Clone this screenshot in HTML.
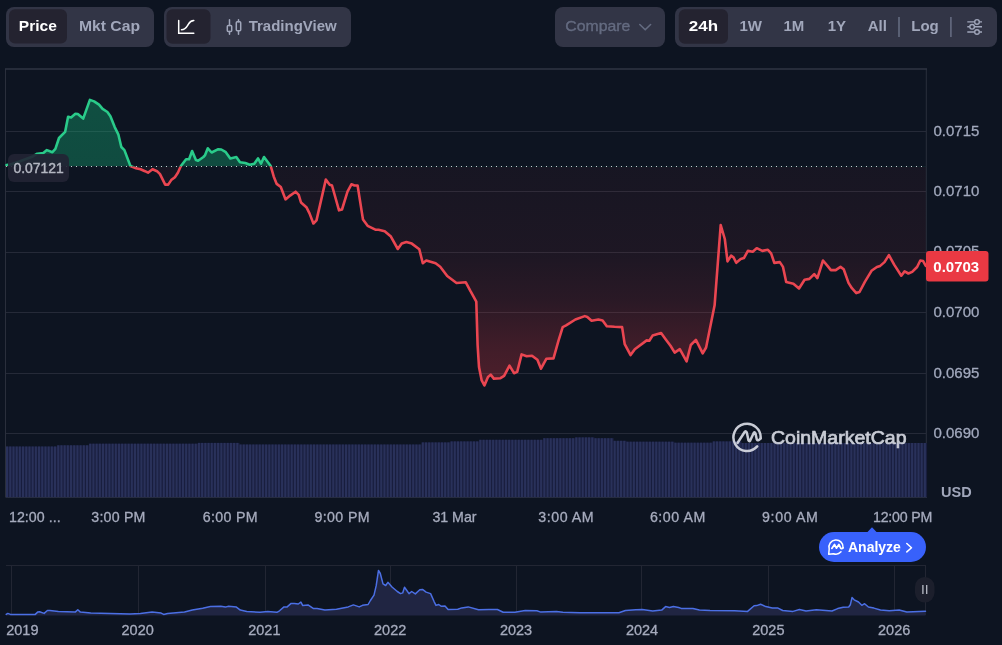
<!DOCTYPE html>
<html><head><meta charset="utf-8"><style>
html,body{margin:0;padding:0;background:#0d1421;width:1002px;height:645px;overflow:hidden}
svg{display:block;will-change:transform}
</style></head><body>
<svg width="1002" height="645" viewBox="0 0 1002 645">
<defs>
<linearGradient id="rg" x1="0" y1="166.4" x2="0" y2="497" gradientUnits="userSpaceOnUse">
<stop offset="0" stop-color="#ea3943" stop-opacity="0.045"/>
<stop offset="0.268" stop-color="#ea3943" stop-opacity="0.075"/>
<stop offset="0.404" stop-color="#ea3943" stop-opacity="0.13"/>
<stop offset="0.54" stop-color="#ea3943" stop-opacity="0.23"/>
<stop offset="0.676" stop-color="#ea3943" stop-opacity="0.3"/>
<stop offset="1" stop-color="#ea3943" stop-opacity="0.38"/>
</linearGradient>
<linearGradient id="gg" x1="0" y1="90" x2="0" y2="166.4" gradientUnits="userSpaceOnUse">
<stop offset="0" stop-color="#16c784" stop-opacity="0.33"/>
<stop offset="1" stop-color="#16c784" stop-opacity="0.31"/>
</linearGradient>
<clipPath id="above"><rect x="0" y="0" width="1002" height="166.4"/></clipPath>
<clipPath id="below"><rect x="0" y="166.4" width="1002" height="400"/></clipPath>
</defs>
<rect width="1002" height="645" fill="#0d1421"/>

<!-- toolbar group 1 -->
<rect x="6" y="7" width="148" height="40" rx="8" fill="#323546"/>
<rect x="9" y="9.3" width="58" height="34.2" rx="6" fill="#242330"/>
<g font-family="'Liberation Sans', sans-serif" font-size="15" font-weight="bold">
<text x="18.8" y="31" fill="#ffffff" textLength="38" lengthAdjust="spacingAndGlyphs">Price</text>
<text x="79" y="31" fill="#a1a7bb" textLength="61" lengthAdjust="spacingAndGlyphs">Mkt Cap</text>
</g>
<!-- group 2 -->
<rect x="164" y="7" width="187" height="40" rx="8" fill="#323546"/>
<rect x="166.5" y="9.3" width="44" height="34.4" rx="6" fill="#242330"/>
<g fill="none" stroke="#ffffff" stroke-width="1.5" stroke-linecap="round">
<path d="M178.7,20.5 V33.2 H193.8"/>
<path d="M181.5,29.8 C186,29.5 186.5,27 188.5,24 C190,21.5 191.5,20.8 193.8,20.6"/>
</g>
<g fill="none" stroke="#a1a7bb" stroke-width="1.5" stroke-linecap="round">
<path d="M229.5,19.8 V25.5 M229.5,31.5 V34.2 M238.5,19.8 V21.8 M238.5,30.8 V34.2"/>
<rect x="227.3" y="25.5" width="4.4" height="6" rx="1"/>
<rect x="236.3" y="21.8" width="4.4" height="9" rx="1"/>
</g>
<text x="248.7" y="31" font-family="'Liberation Sans', sans-serif" font-size="15" font-weight="bold" fill="#a1a7bb">TradingView</text>

<!-- compare -->
<rect x="555" y="7" width="110" height="40" rx="8" fill="#323546"/>
<text x="565.3" y="31" font-family="'Liberation Sans', sans-serif" font-size="15.2" fill="#646b80" stroke="#646b80" stroke-width="0.35" textLength="65" lengthAdjust="spacingAndGlyphs">Compare</text>
<path d="M639.8,24.5 L645.2,29.8 L650.6,24.5" fill="none" stroke="#646b80" stroke-width="1.6" stroke-linecap="round" stroke-linejoin="round"/>

<!-- group 3 -->
<rect x="675" y="7" width="322" height="40" rx="8" fill="#323546"/>
<rect x="678.8" y="9.3" width="49.2" height="34.4" rx="6" fill="#242330"/>
<g font-family="'Liberation Sans', sans-serif" font-size="15" font-weight="bold" fill="#a1a7bb">
<text x="688.8" y="31" fill="#ffffff" textLength="29.2" lengthAdjust="spacingAndGlyphs">24h</text>
<text x="739.4" y="31">1W</text>
<text x="783.5" y="31">1M</text>
<text x="827.7" y="31">1Y</text>
<text x="867.7" y="31">All</text>
<text x="911.3" y="31">Log</text>
</g>
<rect x="898.2" y="17" width="1.6" height="20" fill="#646b80"/>
<rect x="950.1" y="17" width="1.6" height="20" fill="#646b80"/>
<g fill="none" stroke="#a1a7bb" stroke-width="1.4">
<path d="M967.3,21.9 H974.5 M979.5,21.9 H982 M967.3,26.8 H969.6 M974.6,26.8 H982 M967.3,32 H974.5 M979.5,32 H982"/>
<circle cx="977" cy="21.9" r="2.3"/>
<circle cx="972.1" cy="26.8" r="2.3"/>
<circle cx="977" cy="32" r="2.3"/>
</g>

<!-- chart frame -->
<g stroke="#252a38" stroke-width="1"><line x1="6" y1="131.5" x2="926" y2="131.5"/><line x1="6" y1="191.5" x2="926" y2="191.5"/><line x1="6" y1="252.5" x2="926" y2="252.5"/><line x1="6" y1="312.5" x2="926" y2="312.5"/><line x1="6" y1="373.5" x2="926" y2="373.5"/><line x1="6" y1="433.5" x2="926" y2="433.5"/></g>
<g stroke="#2a2f3c" stroke-width="1" fill="none">
<path d="M926.3,69 V497 M5.5,69 V497.5"/>
</g>
<path d="M5,69 H927" stroke="#2f3543" stroke-width="1.6"/>
<!-- volume -->
<g fill="#191e3e"><rect x="6.00" y="446.5" width="3.30" height="50.5"/><rect x="9.20" y="446.5" width="3.30" height="50.5"/><rect x="12.40" y="446.5" width="3.30" height="50.5"/><rect x="15.59" y="446.5" width="3.30" height="50.5"/><rect x="18.79" y="446.5" width="3.30" height="50.5"/><rect x="21.99" y="446.5" width="3.30" height="50.5"/><rect x="25.19" y="446.5" width="3.30" height="50.5"/><rect x="28.39" y="446.5" width="3.30" height="50.5"/><rect x="31.58" y="446.5" width="3.30" height="50.5"/><rect x="34.78" y="446.5" width="3.30" height="50.5"/><rect x="37.98" y="446.5" width="3.30" height="50.5"/><rect x="41.18" y="446.5" width="3.30" height="50.5"/><rect x="44.38" y="446.5" width="3.30" height="50.5"/><rect x="47.57" y="446.5" width="3.30" height="50.5"/><rect x="50.77" y="446.5" width="3.30" height="50.5"/><rect x="53.97" y="446.5" width="3.30" height="50.5"/><rect x="57.17" y="445.3" width="3.30" height="51.69999999999999"/><rect x="60.36" y="445.3" width="3.30" height="51.69999999999999"/><rect x="63.56" y="445.3" width="3.30" height="51.69999999999999"/><rect x="66.76" y="445.3" width="3.30" height="51.69999999999999"/><rect x="69.96" y="445.3" width="3.30" height="51.69999999999999"/><rect x="73.16" y="445.3" width="3.30" height="51.69999999999999"/><rect x="76.35" y="445.3" width="3.30" height="51.69999999999999"/><rect x="79.55" y="445.3" width="3.30" height="51.69999999999999"/><rect x="82.75" y="445.3" width="3.30" height="51.69999999999999"/><rect x="85.95" y="445.3" width="3.30" height="51.69999999999999"/><rect x="89.15" y="443.7" width="3.30" height="53.30000000000001"/><rect x="92.34" y="443.7" width="3.30" height="53.30000000000001"/><rect x="95.54" y="443.7" width="3.30" height="53.30000000000001"/><rect x="98.74" y="443.7" width="3.30" height="53.30000000000001"/><rect x="101.94" y="443.7" width="3.30" height="53.30000000000001"/><rect x="105.14" y="443.7" width="3.30" height="53.30000000000001"/><rect x="108.33" y="443.7" width="3.30" height="53.30000000000001"/><rect x="111.53" y="443.7" width="3.30" height="53.30000000000001"/><rect x="114.73" y="443.7" width="3.30" height="53.30000000000001"/><rect x="117.93" y="443.7" width="3.30" height="53.30000000000001"/><rect x="121.12" y="443.7" width="3.30" height="53.30000000000001"/><rect x="124.32" y="443.7" width="3.30" height="53.30000000000001"/><rect x="127.52" y="443.7" width="3.30" height="53.30000000000001"/><rect x="130.72" y="443.7" width="3.30" height="53.30000000000001"/><rect x="133.92" y="443.7" width="3.30" height="53.30000000000001"/><rect x="137.11" y="443.7" width="3.30" height="53.30000000000001"/><rect x="140.31" y="443.7" width="3.30" height="53.30000000000001"/><rect x="143.51" y="443.7" width="3.30" height="53.30000000000001"/><rect x="146.71" y="443.7" width="3.30" height="53.30000000000001"/><rect x="149.91" y="443.7" width="3.30" height="53.30000000000001"/><rect x="153.10" y="443.7" width="3.30" height="53.30000000000001"/><rect x="156.30" y="443.7" width="3.30" height="53.30000000000001"/><rect x="159.50" y="443.7" width="3.30" height="53.30000000000001"/><rect x="162.70" y="443.7" width="3.30" height="53.30000000000001"/><rect x="165.90" y="443.7" width="3.30" height="53.30000000000001"/><rect x="169.09" y="443.7" width="3.30" height="53.30000000000001"/><rect x="172.29" y="443.7" width="3.30" height="53.30000000000001"/><rect x="175.49" y="443.7" width="3.30" height="53.30000000000001"/><rect x="178.69" y="443.7" width="3.30" height="53.30000000000001"/><rect x="181.89" y="443.7" width="3.30" height="53.30000000000001"/><rect x="185.08" y="443.7" width="3.30" height="53.30000000000001"/><rect x="188.28" y="443.7" width="3.30" height="53.30000000000001"/><rect x="191.48" y="443.7" width="3.30" height="53.30000000000001"/><rect x="194.68" y="443.7" width="3.30" height="53.30000000000001"/><rect x="197.88" y="442.9" width="3.30" height="54.10000000000002"/><rect x="201.07" y="442.9" width="3.30" height="54.10000000000002"/><rect x="204.27" y="442.9" width="3.30" height="54.10000000000002"/><rect x="207.47" y="442.9" width="3.30" height="54.10000000000002"/><rect x="210.67" y="442.9" width="3.30" height="54.10000000000002"/><rect x="213.86" y="442.9" width="3.30" height="54.10000000000002"/><rect x="217.06" y="442.9" width="3.30" height="54.10000000000002"/><rect x="220.26" y="442.9" width="3.30" height="54.10000000000002"/><rect x="223.46" y="442.9" width="3.30" height="54.10000000000002"/><rect x="226.66" y="442.9" width="3.30" height="54.10000000000002"/><rect x="229.85" y="442.9" width="3.30" height="54.10000000000002"/><rect x="233.05" y="442.9" width="3.30" height="54.10000000000002"/><rect x="236.25" y="442.9" width="3.30" height="54.10000000000002"/><rect x="239.45" y="444.5" width="3.30" height="52.5"/><rect x="242.65" y="444.5" width="3.30" height="52.5"/><rect x="245.84" y="444.5" width="3.30" height="52.5"/><rect x="249.04" y="444.5" width="3.30" height="52.5"/><rect x="252.24" y="444.5" width="3.30" height="52.5"/><rect x="255.44" y="444.5" width="3.30" height="52.5"/><rect x="258.64" y="444.5" width="3.30" height="52.5"/><rect x="261.83" y="444.5" width="3.30" height="52.5"/><rect x="265.03" y="444.5" width="3.30" height="52.5"/><rect x="268.23" y="444.5" width="3.30" height="52.5"/><rect x="271.43" y="444.5" width="3.30" height="52.5"/><rect x="274.62" y="444.5" width="3.30" height="52.5"/><rect x="277.82" y="444.5" width="3.30" height="52.5"/><rect x="281.02" y="444.5" width="3.30" height="52.5"/><rect x="284.22" y="444.5" width="3.30" height="52.5"/><rect x="287.42" y="444.5" width="3.30" height="52.5"/><rect x="290.61" y="444.5" width="3.30" height="52.5"/><rect x="293.81" y="444.5" width="3.30" height="52.5"/><rect x="297.01" y="444.5" width="3.30" height="52.5"/><rect x="300.21" y="444.5" width="3.30" height="52.5"/><rect x="303.41" y="444.5" width="3.30" height="52.5"/><rect x="306.60" y="444.5" width="3.30" height="52.5"/><rect x="309.80" y="444.5" width="3.30" height="52.5"/><rect x="313.00" y="444.5" width="3.30" height="52.5"/><rect x="316.20" y="444.5" width="3.30" height="52.5"/><rect x="319.40" y="444.5" width="3.30" height="52.5"/><rect x="322.59" y="444.5" width="3.30" height="52.5"/><rect x="325.79" y="444.5" width="3.30" height="52.5"/><rect x="328.99" y="444.5" width="3.30" height="52.5"/><rect x="332.19" y="444.5" width="3.30" height="52.5"/><rect x="335.39" y="444.5" width="3.30" height="52.5"/><rect x="338.58" y="444.5" width="3.30" height="52.5"/><rect x="341.78" y="444.5" width="3.30" height="52.5"/><rect x="344.98" y="444.5" width="3.30" height="52.5"/><rect x="348.18" y="444.5" width="3.30" height="52.5"/><rect x="351.38" y="444.5" width="3.30" height="52.5"/><rect x="354.57" y="444.5" width="3.30" height="52.5"/><rect x="357.77" y="444.5" width="3.30" height="52.5"/><rect x="360.97" y="444.5" width="3.30" height="52.5"/><rect x="364.17" y="444.5" width="3.30" height="52.5"/><rect x="367.36" y="444.5" width="3.30" height="52.5"/><rect x="370.56" y="444.5" width="3.30" height="52.5"/><rect x="373.76" y="444.5" width="3.30" height="52.5"/><rect x="376.96" y="444.5" width="3.30" height="52.5"/><rect x="380.16" y="444.5" width="3.30" height="52.5"/><rect x="383.35" y="444.5" width="3.30" height="52.5"/><rect x="386.55" y="444.5" width="3.30" height="52.5"/><rect x="389.75" y="444.5" width="3.30" height="52.5"/><rect x="392.95" y="444.5" width="3.30" height="52.5"/><rect x="396.15" y="444.5" width="3.30" height="52.5"/><rect x="399.34" y="444.5" width="3.30" height="52.5"/><rect x="402.54" y="444.5" width="3.30" height="52.5"/><rect x="405.74" y="444.5" width="3.30" height="52.5"/><rect x="408.94" y="444.5" width="3.30" height="52.5"/><rect x="412.14" y="444.5" width="3.30" height="52.5"/><rect x="415.33" y="444.5" width="3.30" height="52.5"/><rect x="418.53" y="444.5" width="3.30" height="52.5"/><rect x="421.73" y="442.4" width="3.30" height="54.60000000000002"/><rect x="424.93" y="442.4" width="3.30" height="54.60000000000002"/><rect x="428.12" y="442.4" width="3.30" height="54.60000000000002"/><rect x="431.32" y="442.4" width="3.30" height="54.60000000000002"/><rect x="434.52" y="442.4" width="3.30" height="54.60000000000002"/><rect x="437.72" y="442.4" width="3.30" height="54.60000000000002"/><rect x="440.92" y="442.4" width="3.30" height="54.60000000000002"/><rect x="444.11" y="442.4" width="3.30" height="54.60000000000002"/><rect x="447.31" y="442.4" width="3.30" height="54.60000000000002"/><rect x="450.51" y="441.4" width="3.30" height="55.60000000000002"/><rect x="453.71" y="441.4" width="3.30" height="55.60000000000002"/><rect x="456.91" y="441.4" width="3.30" height="55.60000000000002"/><rect x="460.10" y="441.4" width="3.30" height="55.60000000000002"/><rect x="463.30" y="441.4" width="3.30" height="55.60000000000002"/><rect x="466.50" y="441.4" width="3.30" height="55.60000000000002"/><rect x="469.70" y="441.4" width="3.30" height="55.60000000000002"/><rect x="472.90" y="441.4" width="3.30" height="55.60000000000002"/><rect x="476.09" y="441.4" width="3.30" height="55.60000000000002"/><rect x="479.29" y="439.8" width="3.30" height="57.19999999999999"/><rect x="482.49" y="439.8" width="3.30" height="57.19999999999999"/><rect x="485.69" y="439.8" width="3.30" height="57.19999999999999"/><rect x="488.89" y="439.8" width="3.30" height="57.19999999999999"/><rect x="492.08" y="439.8" width="3.30" height="57.19999999999999"/><rect x="495.28" y="439.8" width="3.30" height="57.19999999999999"/><rect x="498.48" y="439.8" width="3.30" height="57.19999999999999"/><rect x="501.68" y="439.8" width="3.30" height="57.19999999999999"/><rect x="504.88" y="439.8" width="3.30" height="57.19999999999999"/><rect x="508.07" y="439.8" width="3.30" height="57.19999999999999"/><rect x="511.27" y="439.8" width="3.30" height="57.19999999999999"/><rect x="514.47" y="439.8" width="3.30" height="57.19999999999999"/><rect x="517.67" y="439.8" width="3.30" height="57.19999999999999"/><rect x="520.86" y="439.8" width="3.30" height="57.19999999999999"/><rect x="524.06" y="439.8" width="3.30" height="57.19999999999999"/><rect x="527.26" y="439.8" width="3.30" height="57.19999999999999"/><rect x="530.46" y="439.8" width="3.30" height="57.19999999999999"/><rect x="533.66" y="439.8" width="3.30" height="57.19999999999999"/><rect x="536.85" y="439.8" width="3.30" height="57.19999999999999"/><rect x="540.05" y="439.8" width="3.30" height="57.19999999999999"/><rect x="543.25" y="438.2" width="3.30" height="58.80000000000001"/><rect x="546.45" y="438.2" width="3.30" height="58.80000000000001"/><rect x="549.65" y="438.2" width="3.30" height="58.80000000000001"/><rect x="552.84" y="438.2" width="3.30" height="58.80000000000001"/><rect x="556.04" y="438.2" width="3.30" height="58.80000000000001"/><rect x="559.24" y="438.2" width="3.30" height="58.80000000000001"/><rect x="562.44" y="438.2" width="3.30" height="58.80000000000001"/><rect x="565.64" y="438.2" width="3.30" height="58.80000000000001"/><rect x="568.83" y="438.2" width="3.30" height="58.80000000000001"/><rect x="572.03" y="438.2" width="3.30" height="58.80000000000001"/><rect x="575.23" y="437.4" width="3.30" height="59.60000000000002"/><rect x="578.43" y="437.4" width="3.30" height="59.60000000000002"/><rect x="581.62" y="437.4" width="3.30" height="59.60000000000002"/><rect x="584.82" y="437.4" width="3.30" height="59.60000000000002"/><rect x="588.02" y="437.4" width="3.30" height="59.60000000000002"/><rect x="591.22" y="437.4" width="3.30" height="59.60000000000002"/><rect x="594.42" y="438.2" width="3.30" height="58.80000000000001"/><rect x="597.61" y="438.2" width="3.30" height="58.80000000000001"/><rect x="600.81" y="438.2" width="3.30" height="58.80000000000001"/><rect x="604.01" y="438.2" width="3.30" height="58.80000000000001"/><rect x="607.21" y="438.2" width="3.30" height="58.80000000000001"/><rect x="610.41" y="438.2" width="3.30" height="58.80000000000001"/><rect x="613.60" y="440.8" width="3.30" height="56.19999999999999"/><rect x="616.80" y="440.8" width="3.30" height="56.19999999999999"/><rect x="620.00" y="440.8" width="3.30" height="56.19999999999999"/><rect x="623.20" y="440.8" width="3.30" height="56.19999999999999"/><rect x="626.40" y="441.7" width="3.30" height="55.30000000000001"/><rect x="629.59" y="441.7" width="3.30" height="55.30000000000001"/><rect x="632.79" y="441.7" width="3.30" height="55.30000000000001"/><rect x="635.99" y="441.7" width="3.30" height="55.30000000000001"/><rect x="639.19" y="441.7" width="3.30" height="55.30000000000001"/><rect x="642.39" y="441.7" width="3.30" height="55.30000000000001"/><rect x="645.58" y="441.7" width="3.30" height="55.30000000000001"/><rect x="648.78" y="441.7" width="3.30" height="55.30000000000001"/><rect x="651.98" y="441.7" width="3.30" height="55.30000000000001"/><rect x="655.18" y="441.7" width="3.30" height="55.30000000000001"/><rect x="658.38" y="441.7" width="3.30" height="55.30000000000001"/><rect x="661.57" y="441.7" width="3.30" height="55.30000000000001"/><rect x="664.77" y="441.7" width="3.30" height="55.30000000000001"/><rect x="667.97" y="441.7" width="3.30" height="55.30000000000001"/><rect x="671.17" y="441.7" width="3.30" height="55.30000000000001"/><rect x="674.36" y="442.7" width="3.30" height="54.30000000000001"/><rect x="677.56" y="442.7" width="3.30" height="54.30000000000001"/><rect x="680.76" y="442.7" width="3.30" height="54.30000000000001"/><rect x="683.96" y="442.7" width="3.30" height="54.30000000000001"/><rect x="687.16" y="442.7" width="3.30" height="54.30000000000001"/><rect x="690.35" y="442.7" width="3.30" height="54.30000000000001"/><rect x="693.55" y="442.7" width="3.30" height="54.30000000000001"/><rect x="696.75" y="442.7" width="3.30" height="54.30000000000001"/><rect x="699.95" y="442.7" width="3.30" height="54.30000000000001"/><rect x="703.15" y="442.7" width="3.30" height="54.30000000000001"/><rect x="706.34" y="442.7" width="3.30" height="54.30000000000001"/><rect x="709.54" y="442.7" width="3.30" height="54.30000000000001"/><rect x="712.74" y="441.4" width="3.30" height="55.60000000000002"/><rect x="715.94" y="441.4" width="3.30" height="55.60000000000002"/><rect x="719.14" y="441.4" width="3.30" height="55.60000000000002"/><rect x="722.33" y="441.4" width="3.30" height="55.60000000000002"/><rect x="725.53" y="441.4" width="3.30" height="55.60000000000002"/><rect x="728.73" y="441.4" width="3.30" height="55.60000000000002"/><rect x="731.93" y="441.4" width="3.30" height="55.60000000000002"/><rect x="735.12" y="441.4" width="3.30" height="55.60000000000002"/><rect x="738.32" y="441.4" width="3.30" height="55.60000000000002"/><rect x="741.52" y="443" width="3.30" height="54"/><rect x="744.72" y="443" width="3.30" height="54"/><rect x="747.92" y="443" width="3.30" height="54"/><rect x="751.11" y="443" width="3.30" height="54"/><rect x="754.31" y="443" width="3.30" height="54"/><rect x="757.51" y="443" width="3.30" height="54"/><rect x="760.71" y="443" width="3.30" height="54"/><rect x="763.91" y="443" width="3.30" height="54"/><rect x="767.10" y="443" width="3.30" height="54"/><rect x="770.30" y="443" width="3.30" height="54"/><rect x="773.50" y="443" width="3.30" height="54"/><rect x="776.70" y="443" width="3.30" height="54"/><rect x="779.90" y="443" width="3.30" height="54"/><rect x="783.09" y="443" width="3.30" height="54"/><rect x="786.29" y="443" width="3.30" height="54"/><rect x="789.49" y="443" width="3.30" height="54"/><rect x="792.69" y="443" width="3.30" height="54"/><rect x="795.89" y="443" width="3.30" height="54"/><rect x="799.08" y="443" width="3.30" height="54"/><rect x="802.28" y="443" width="3.30" height="54"/><rect x="805.48" y="443" width="3.30" height="54"/><rect x="808.68" y="443" width="3.30" height="54"/><rect x="811.88" y="443" width="3.30" height="54"/><rect x="815.07" y="443" width="3.30" height="54"/><rect x="818.27" y="443" width="3.30" height="54"/><rect x="821.47" y="443" width="3.30" height="54"/><rect x="824.67" y="443" width="3.30" height="54"/><rect x="827.86" y="443" width="3.30" height="54"/><rect x="831.06" y="443" width="3.30" height="54"/><rect x="834.26" y="443" width="3.30" height="54"/><rect x="837.46" y="443" width="3.30" height="54"/><rect x="840.66" y="443" width="3.30" height="54"/><rect x="843.85" y="443" width="3.30" height="54"/><rect x="847.05" y="443" width="3.30" height="54"/><rect x="850.25" y="443" width="3.30" height="54"/><rect x="853.45" y="443" width="3.30" height="54"/><rect x="856.65" y="443" width="3.30" height="54"/><rect x="859.84" y="443" width="3.30" height="54"/><rect x="863.04" y="443" width="3.30" height="54"/><rect x="866.24" y="443" width="3.30" height="54"/><rect x="869.44" y="443" width="3.30" height="54"/><rect x="872.64" y="443" width="3.30" height="54"/><rect x="875.83" y="443" width="3.30" height="54"/><rect x="879.03" y="443" width="3.30" height="54"/><rect x="882.23" y="443" width="3.30" height="54"/><rect x="885.43" y="443" width="3.30" height="54"/><rect x="888.62" y="443" width="3.30" height="54"/><rect x="891.82" y="443" width="3.30" height="54"/><rect x="895.02" y="443" width="3.30" height="54"/><rect x="898.22" y="443" width="3.30" height="54"/><rect x="901.42" y="443" width="3.30" height="54"/><rect x="904.61" y="443" width="3.30" height="54"/><rect x="907.81" y="443" width="3.30" height="54"/><rect x="911.01" y="443" width="3.30" height="54"/><rect x="914.21" y="443" width="3.30" height="54"/><rect x="917.41" y="443" width="3.30" height="54"/><rect x="920.60" y="443" width="3.30" height="54"/><rect x="923.80" y="443" width="3.30" height="54"/></g><g fill="#29315a"><rect x="6.00" y="446.5" width="2.10" height="50.5"/><rect x="9.20" y="446.5" width="2.10" height="50.5"/><rect x="12.40" y="446.5" width="2.10" height="50.5"/><rect x="15.59" y="446.5" width="2.10" height="50.5"/><rect x="18.79" y="446.5" width="2.10" height="50.5"/><rect x="21.99" y="446.5" width="2.10" height="50.5"/><rect x="25.19" y="446.5" width="2.10" height="50.5"/><rect x="28.39" y="446.5" width="2.10" height="50.5"/><rect x="31.58" y="446.5" width="2.10" height="50.5"/><rect x="34.78" y="446.5" width="2.10" height="50.5"/><rect x="37.98" y="446.5" width="2.10" height="50.5"/><rect x="41.18" y="446.5" width="2.10" height="50.5"/><rect x="44.38" y="446.5" width="2.10" height="50.5"/><rect x="47.57" y="446.5" width="2.10" height="50.5"/><rect x="50.77" y="446.5" width="2.10" height="50.5"/><rect x="53.97" y="446.5" width="2.10" height="50.5"/><rect x="57.17" y="445.3" width="2.10" height="51.69999999999999"/><rect x="60.36" y="445.3" width="2.10" height="51.69999999999999"/><rect x="63.56" y="445.3" width="2.10" height="51.69999999999999"/><rect x="66.76" y="445.3" width="2.10" height="51.69999999999999"/><rect x="69.96" y="445.3" width="2.10" height="51.69999999999999"/><rect x="73.16" y="445.3" width="2.10" height="51.69999999999999"/><rect x="76.35" y="445.3" width="2.10" height="51.69999999999999"/><rect x="79.55" y="445.3" width="2.10" height="51.69999999999999"/><rect x="82.75" y="445.3" width="2.10" height="51.69999999999999"/><rect x="85.95" y="445.3" width="2.10" height="51.69999999999999"/><rect x="89.15" y="443.7" width="2.10" height="53.30000000000001"/><rect x="92.34" y="443.7" width="2.10" height="53.30000000000001"/><rect x="95.54" y="443.7" width="2.10" height="53.30000000000001"/><rect x="98.74" y="443.7" width="2.10" height="53.30000000000001"/><rect x="101.94" y="443.7" width="2.10" height="53.30000000000001"/><rect x="105.14" y="443.7" width="2.10" height="53.30000000000001"/><rect x="108.33" y="443.7" width="2.10" height="53.30000000000001"/><rect x="111.53" y="443.7" width="2.10" height="53.30000000000001"/><rect x="114.73" y="443.7" width="2.10" height="53.30000000000001"/><rect x="117.93" y="443.7" width="2.10" height="53.30000000000001"/><rect x="121.12" y="443.7" width="2.10" height="53.30000000000001"/><rect x="124.32" y="443.7" width="2.10" height="53.30000000000001"/><rect x="127.52" y="443.7" width="2.10" height="53.30000000000001"/><rect x="130.72" y="443.7" width="2.10" height="53.30000000000001"/><rect x="133.92" y="443.7" width="2.10" height="53.30000000000001"/><rect x="137.11" y="443.7" width="2.10" height="53.30000000000001"/><rect x="140.31" y="443.7" width="2.10" height="53.30000000000001"/><rect x="143.51" y="443.7" width="2.10" height="53.30000000000001"/><rect x="146.71" y="443.7" width="2.10" height="53.30000000000001"/><rect x="149.91" y="443.7" width="2.10" height="53.30000000000001"/><rect x="153.10" y="443.7" width="2.10" height="53.30000000000001"/><rect x="156.30" y="443.7" width="2.10" height="53.30000000000001"/><rect x="159.50" y="443.7" width="2.10" height="53.30000000000001"/><rect x="162.70" y="443.7" width="2.10" height="53.30000000000001"/><rect x="165.90" y="443.7" width="2.10" height="53.30000000000001"/><rect x="169.09" y="443.7" width="2.10" height="53.30000000000001"/><rect x="172.29" y="443.7" width="2.10" height="53.30000000000001"/><rect x="175.49" y="443.7" width="2.10" height="53.30000000000001"/><rect x="178.69" y="443.7" width="2.10" height="53.30000000000001"/><rect x="181.89" y="443.7" width="2.10" height="53.30000000000001"/><rect x="185.08" y="443.7" width="2.10" height="53.30000000000001"/><rect x="188.28" y="443.7" width="2.10" height="53.30000000000001"/><rect x="191.48" y="443.7" width="2.10" height="53.30000000000001"/><rect x="194.68" y="443.7" width="2.10" height="53.30000000000001"/><rect x="197.88" y="442.9" width="2.10" height="54.10000000000002"/><rect x="201.07" y="442.9" width="2.10" height="54.10000000000002"/><rect x="204.27" y="442.9" width="2.10" height="54.10000000000002"/><rect x="207.47" y="442.9" width="2.10" height="54.10000000000002"/><rect x="210.67" y="442.9" width="2.10" height="54.10000000000002"/><rect x="213.86" y="442.9" width="2.10" height="54.10000000000002"/><rect x="217.06" y="442.9" width="2.10" height="54.10000000000002"/><rect x="220.26" y="442.9" width="2.10" height="54.10000000000002"/><rect x="223.46" y="442.9" width="2.10" height="54.10000000000002"/><rect x="226.66" y="442.9" width="2.10" height="54.10000000000002"/><rect x="229.85" y="442.9" width="2.10" height="54.10000000000002"/><rect x="233.05" y="442.9" width="2.10" height="54.10000000000002"/><rect x="236.25" y="442.9" width="2.10" height="54.10000000000002"/><rect x="239.45" y="444.5" width="2.10" height="52.5"/><rect x="242.65" y="444.5" width="2.10" height="52.5"/><rect x="245.84" y="444.5" width="2.10" height="52.5"/><rect x="249.04" y="444.5" width="2.10" height="52.5"/><rect x="252.24" y="444.5" width="2.10" height="52.5"/><rect x="255.44" y="444.5" width="2.10" height="52.5"/><rect x="258.64" y="444.5" width="2.10" height="52.5"/><rect x="261.83" y="444.5" width="2.10" height="52.5"/><rect x="265.03" y="444.5" width="2.10" height="52.5"/><rect x="268.23" y="444.5" width="2.10" height="52.5"/><rect x="271.43" y="444.5" width="2.10" height="52.5"/><rect x="274.62" y="444.5" width="2.10" height="52.5"/><rect x="277.82" y="444.5" width="2.10" height="52.5"/><rect x="281.02" y="444.5" width="2.10" height="52.5"/><rect x="284.22" y="444.5" width="2.10" height="52.5"/><rect x="287.42" y="444.5" width="2.10" height="52.5"/><rect x="290.61" y="444.5" width="2.10" height="52.5"/><rect x="293.81" y="444.5" width="2.10" height="52.5"/><rect x="297.01" y="444.5" width="2.10" height="52.5"/><rect x="300.21" y="444.5" width="2.10" height="52.5"/><rect x="303.41" y="444.5" width="2.10" height="52.5"/><rect x="306.60" y="444.5" width="2.10" height="52.5"/><rect x="309.80" y="444.5" width="2.10" height="52.5"/><rect x="313.00" y="444.5" width="2.10" height="52.5"/><rect x="316.20" y="444.5" width="2.10" height="52.5"/><rect x="319.40" y="444.5" width="2.10" height="52.5"/><rect x="322.59" y="444.5" width="2.10" height="52.5"/><rect x="325.79" y="444.5" width="2.10" height="52.5"/><rect x="328.99" y="444.5" width="2.10" height="52.5"/><rect x="332.19" y="444.5" width="2.10" height="52.5"/><rect x="335.39" y="444.5" width="2.10" height="52.5"/><rect x="338.58" y="444.5" width="2.10" height="52.5"/><rect x="341.78" y="444.5" width="2.10" height="52.5"/><rect x="344.98" y="444.5" width="2.10" height="52.5"/><rect x="348.18" y="444.5" width="2.10" height="52.5"/><rect x="351.38" y="444.5" width="2.10" height="52.5"/><rect x="354.57" y="444.5" width="2.10" height="52.5"/><rect x="357.77" y="444.5" width="2.10" height="52.5"/><rect x="360.97" y="444.5" width="2.10" height="52.5"/><rect x="364.17" y="444.5" width="2.10" height="52.5"/><rect x="367.36" y="444.5" width="2.10" height="52.5"/><rect x="370.56" y="444.5" width="2.10" height="52.5"/><rect x="373.76" y="444.5" width="2.10" height="52.5"/><rect x="376.96" y="444.5" width="2.10" height="52.5"/><rect x="380.16" y="444.5" width="2.10" height="52.5"/><rect x="383.35" y="444.5" width="2.10" height="52.5"/><rect x="386.55" y="444.5" width="2.10" height="52.5"/><rect x="389.75" y="444.5" width="2.10" height="52.5"/><rect x="392.95" y="444.5" width="2.10" height="52.5"/><rect x="396.15" y="444.5" width="2.10" height="52.5"/><rect x="399.34" y="444.5" width="2.10" height="52.5"/><rect x="402.54" y="444.5" width="2.10" height="52.5"/><rect x="405.74" y="444.5" width="2.10" height="52.5"/><rect x="408.94" y="444.5" width="2.10" height="52.5"/><rect x="412.14" y="444.5" width="2.10" height="52.5"/><rect x="415.33" y="444.5" width="2.10" height="52.5"/><rect x="418.53" y="444.5" width="2.10" height="52.5"/><rect x="421.73" y="442.4" width="2.10" height="54.60000000000002"/><rect x="424.93" y="442.4" width="2.10" height="54.60000000000002"/><rect x="428.12" y="442.4" width="2.10" height="54.60000000000002"/><rect x="431.32" y="442.4" width="2.10" height="54.60000000000002"/><rect x="434.52" y="442.4" width="2.10" height="54.60000000000002"/><rect x="437.72" y="442.4" width="2.10" height="54.60000000000002"/><rect x="440.92" y="442.4" width="2.10" height="54.60000000000002"/><rect x="444.11" y="442.4" width="2.10" height="54.60000000000002"/><rect x="447.31" y="442.4" width="2.10" height="54.60000000000002"/><rect x="450.51" y="441.4" width="2.10" height="55.60000000000002"/><rect x="453.71" y="441.4" width="2.10" height="55.60000000000002"/><rect x="456.91" y="441.4" width="2.10" height="55.60000000000002"/><rect x="460.10" y="441.4" width="2.10" height="55.60000000000002"/><rect x="463.30" y="441.4" width="2.10" height="55.60000000000002"/><rect x="466.50" y="441.4" width="2.10" height="55.60000000000002"/><rect x="469.70" y="441.4" width="2.10" height="55.60000000000002"/><rect x="472.90" y="441.4" width="2.10" height="55.60000000000002"/><rect x="476.09" y="441.4" width="2.10" height="55.60000000000002"/><rect x="479.29" y="439.8" width="2.10" height="57.19999999999999"/><rect x="482.49" y="439.8" width="2.10" height="57.19999999999999"/><rect x="485.69" y="439.8" width="2.10" height="57.19999999999999"/><rect x="488.89" y="439.8" width="2.10" height="57.19999999999999"/><rect x="492.08" y="439.8" width="2.10" height="57.19999999999999"/><rect x="495.28" y="439.8" width="2.10" height="57.19999999999999"/><rect x="498.48" y="439.8" width="2.10" height="57.19999999999999"/><rect x="501.68" y="439.8" width="2.10" height="57.19999999999999"/><rect x="504.88" y="439.8" width="2.10" height="57.19999999999999"/><rect x="508.07" y="439.8" width="2.10" height="57.19999999999999"/><rect x="511.27" y="439.8" width="2.10" height="57.19999999999999"/><rect x="514.47" y="439.8" width="2.10" height="57.19999999999999"/><rect x="517.67" y="439.8" width="2.10" height="57.19999999999999"/><rect x="520.86" y="439.8" width="2.10" height="57.19999999999999"/><rect x="524.06" y="439.8" width="2.10" height="57.19999999999999"/><rect x="527.26" y="439.8" width="2.10" height="57.19999999999999"/><rect x="530.46" y="439.8" width="2.10" height="57.19999999999999"/><rect x="533.66" y="439.8" width="2.10" height="57.19999999999999"/><rect x="536.85" y="439.8" width="2.10" height="57.19999999999999"/><rect x="540.05" y="439.8" width="2.10" height="57.19999999999999"/><rect x="543.25" y="438.2" width="2.10" height="58.80000000000001"/><rect x="546.45" y="438.2" width="2.10" height="58.80000000000001"/><rect x="549.65" y="438.2" width="2.10" height="58.80000000000001"/><rect x="552.84" y="438.2" width="2.10" height="58.80000000000001"/><rect x="556.04" y="438.2" width="2.10" height="58.80000000000001"/><rect x="559.24" y="438.2" width="2.10" height="58.80000000000001"/><rect x="562.44" y="438.2" width="2.10" height="58.80000000000001"/><rect x="565.64" y="438.2" width="2.10" height="58.80000000000001"/><rect x="568.83" y="438.2" width="2.10" height="58.80000000000001"/><rect x="572.03" y="438.2" width="2.10" height="58.80000000000001"/><rect x="575.23" y="437.4" width="2.10" height="59.60000000000002"/><rect x="578.43" y="437.4" width="2.10" height="59.60000000000002"/><rect x="581.62" y="437.4" width="2.10" height="59.60000000000002"/><rect x="584.82" y="437.4" width="2.10" height="59.60000000000002"/><rect x="588.02" y="437.4" width="2.10" height="59.60000000000002"/><rect x="591.22" y="437.4" width="2.10" height="59.60000000000002"/><rect x="594.42" y="438.2" width="2.10" height="58.80000000000001"/><rect x="597.61" y="438.2" width="2.10" height="58.80000000000001"/><rect x="600.81" y="438.2" width="2.10" height="58.80000000000001"/><rect x="604.01" y="438.2" width="2.10" height="58.80000000000001"/><rect x="607.21" y="438.2" width="2.10" height="58.80000000000001"/><rect x="610.41" y="438.2" width="2.10" height="58.80000000000001"/><rect x="613.60" y="440.8" width="2.10" height="56.19999999999999"/><rect x="616.80" y="440.8" width="2.10" height="56.19999999999999"/><rect x="620.00" y="440.8" width="2.10" height="56.19999999999999"/><rect x="623.20" y="440.8" width="2.10" height="56.19999999999999"/><rect x="626.40" y="441.7" width="2.10" height="55.30000000000001"/><rect x="629.59" y="441.7" width="2.10" height="55.30000000000001"/><rect x="632.79" y="441.7" width="2.10" height="55.30000000000001"/><rect x="635.99" y="441.7" width="2.10" height="55.30000000000001"/><rect x="639.19" y="441.7" width="2.10" height="55.30000000000001"/><rect x="642.39" y="441.7" width="2.10" height="55.30000000000001"/><rect x="645.58" y="441.7" width="2.10" height="55.30000000000001"/><rect x="648.78" y="441.7" width="2.10" height="55.30000000000001"/><rect x="651.98" y="441.7" width="2.10" height="55.30000000000001"/><rect x="655.18" y="441.7" width="2.10" height="55.30000000000001"/><rect x="658.38" y="441.7" width="2.10" height="55.30000000000001"/><rect x="661.57" y="441.7" width="2.10" height="55.30000000000001"/><rect x="664.77" y="441.7" width="2.10" height="55.30000000000001"/><rect x="667.97" y="441.7" width="2.10" height="55.30000000000001"/><rect x="671.17" y="441.7" width="2.10" height="55.30000000000001"/><rect x="674.36" y="442.7" width="2.10" height="54.30000000000001"/><rect x="677.56" y="442.7" width="2.10" height="54.30000000000001"/><rect x="680.76" y="442.7" width="2.10" height="54.30000000000001"/><rect x="683.96" y="442.7" width="2.10" height="54.30000000000001"/><rect x="687.16" y="442.7" width="2.10" height="54.30000000000001"/><rect x="690.35" y="442.7" width="2.10" height="54.30000000000001"/><rect x="693.55" y="442.7" width="2.10" height="54.30000000000001"/><rect x="696.75" y="442.7" width="2.10" height="54.30000000000001"/><rect x="699.95" y="442.7" width="2.10" height="54.30000000000001"/><rect x="703.15" y="442.7" width="2.10" height="54.30000000000001"/><rect x="706.34" y="442.7" width="2.10" height="54.30000000000001"/><rect x="709.54" y="442.7" width="2.10" height="54.30000000000001"/><rect x="712.74" y="441.4" width="2.10" height="55.60000000000002"/><rect x="715.94" y="441.4" width="2.10" height="55.60000000000002"/><rect x="719.14" y="441.4" width="2.10" height="55.60000000000002"/><rect x="722.33" y="441.4" width="2.10" height="55.60000000000002"/><rect x="725.53" y="441.4" width="2.10" height="55.60000000000002"/><rect x="728.73" y="441.4" width="2.10" height="55.60000000000002"/><rect x="731.93" y="441.4" width="2.10" height="55.60000000000002"/><rect x="735.12" y="441.4" width="2.10" height="55.60000000000002"/><rect x="738.32" y="441.4" width="2.10" height="55.60000000000002"/><rect x="741.52" y="443" width="2.10" height="54"/><rect x="744.72" y="443" width="2.10" height="54"/><rect x="747.92" y="443" width="2.10" height="54"/><rect x="751.11" y="443" width="2.10" height="54"/><rect x="754.31" y="443" width="2.10" height="54"/><rect x="757.51" y="443" width="2.10" height="54"/><rect x="760.71" y="443" width="2.10" height="54"/><rect x="763.91" y="443" width="2.10" height="54"/><rect x="767.10" y="443" width="2.10" height="54"/><rect x="770.30" y="443" width="2.10" height="54"/><rect x="773.50" y="443" width="2.10" height="54"/><rect x="776.70" y="443" width="2.10" height="54"/><rect x="779.90" y="443" width="2.10" height="54"/><rect x="783.09" y="443" width="2.10" height="54"/><rect x="786.29" y="443" width="2.10" height="54"/><rect x="789.49" y="443" width="2.10" height="54"/><rect x="792.69" y="443" width="2.10" height="54"/><rect x="795.89" y="443" width="2.10" height="54"/><rect x="799.08" y="443" width="2.10" height="54"/><rect x="802.28" y="443" width="2.10" height="54"/><rect x="805.48" y="443" width="2.10" height="54"/><rect x="808.68" y="443" width="2.10" height="54"/><rect x="811.88" y="443" width="2.10" height="54"/><rect x="815.07" y="443" width="2.10" height="54"/><rect x="818.27" y="443" width="2.10" height="54"/><rect x="821.47" y="443" width="2.10" height="54"/><rect x="824.67" y="443" width="2.10" height="54"/><rect x="827.86" y="443" width="2.10" height="54"/><rect x="831.06" y="443" width="2.10" height="54"/><rect x="834.26" y="443" width="2.10" height="54"/><rect x="837.46" y="443" width="2.10" height="54"/><rect x="840.66" y="443" width="2.10" height="54"/><rect x="843.85" y="443" width="2.10" height="54"/><rect x="847.05" y="443" width="2.10" height="54"/><rect x="850.25" y="443" width="2.10" height="54"/><rect x="853.45" y="443" width="2.10" height="54"/><rect x="856.65" y="443" width="2.10" height="54"/><rect x="859.84" y="443" width="2.10" height="54"/><rect x="863.04" y="443" width="2.10" height="54"/><rect x="866.24" y="443" width="2.10" height="54"/><rect x="869.44" y="443" width="2.10" height="54"/><rect x="872.64" y="443" width="2.10" height="54"/><rect x="875.83" y="443" width="2.10" height="54"/><rect x="879.03" y="443" width="2.10" height="54"/><rect x="882.23" y="443" width="2.10" height="54"/><rect x="885.43" y="443" width="2.10" height="54"/><rect x="888.62" y="443" width="2.10" height="54"/><rect x="891.82" y="443" width="2.10" height="54"/><rect x="895.02" y="443" width="2.10" height="54"/><rect x="898.22" y="443" width="2.10" height="54"/><rect x="901.42" y="443" width="2.10" height="54"/><rect x="904.61" y="443" width="2.10" height="54"/><rect x="907.81" y="443" width="2.10" height="54"/><rect x="911.01" y="443" width="2.10" height="54"/><rect x="914.21" y="443" width="2.10" height="54"/><rect x="917.41" y="443" width="2.10" height="54"/><rect x="920.60" y="443" width="2.10" height="54"/><rect x="923.80" y="443" width="2.10" height="54"/></g>
<line x1="6" y1="497.5" x2="927" y2="497.5" stroke="#262c40"/>

<!-- fills -->
<path d="M6.5,165.0 L10.0,164.5 L15.0,163.0 L20.0,161.2 L26.0,159.0 L32.0,156.8 L37.3,153.7 L43.3,153.1 L46.9,150.1 L52.4,152.2 L55.4,148.9 L59.0,138.0 L65.1,131.9 L68.1,116.8 L71.1,117.4 L75.4,113.8 L77.8,114.0 L83.2,118.6 L89.9,99.9 L94.1,101.4 L99.0,104.7 L102.6,108.9 L107.4,112.0 L110.4,116.2 L114.7,127.1 L118.3,134.3 L121.3,147.0 L124.4,150.1 L130.4,166.0 L136.0,168.2 L140.5,169.2 L145.0,171.2 L148.0,172.7 L152.5,169.2 L157.0,171.2 L160.0,174.2 L165.2,184.6 L168.2,184.6 L171.2,180.1 L174.9,177.2 L177.9,172.7 L180.9,166.0 L186.1,159.2 L189.1,159.2 L192.1,151.0 L195.9,160.0 L198.1,160.7 L203.4,157.0 L204.9,155.4 L207.8,148.3 L211.6,152.5 L218.3,149.2 L221.3,149.5 L225.8,152.2 L230.3,158.4 L236.3,157.0 L240.0,162.2 L245.3,163.0 L249.8,164.7 L254.3,163.7 L258.0,158.4 L261.0,163.7 L264.0,157.0 L270.7,166.0 L273.7,176.4 L276.7,183.9 L280.8,187.0 L285.5,199.4 L290.1,195.6 L295.6,191.7 L298.7,194.8 L301.0,202.5 L306.4,207.2 L309.5,213.4 L313.4,223.5 L316.5,220.4 L325.8,179.6 L329.7,184.7 L332.0,185.5 L339.0,210.3 L342.0,209.5 L347.5,191.7 L351.4,184.3 L354.5,185.5 L357.6,185.5 L363.0,219.6 L367.6,225.8 L375.4,229.7 L378.5,229.7 L384.7,231.2 L390.9,236.6 L397.8,249.0 L401.7,243.6 L406.4,242.1 L411.8,243.6 L419.3,249.3 L422.8,263.3 L426.3,260.5 L435.6,263.3 L440.2,266.7 L447.2,276.0 L456.5,283.0 L465.8,282.3 L470.5,291.2 L476.3,301.6 L477.6,345.0 L479.0,367.0 L481.7,380.4 L484.4,385.5 L488.0,377.0 L490.7,374.6 L493.8,378.6 L500.5,378.2 L504.1,375.9 L509.5,365.6 L514.0,373.2 L517.2,371.9 L521.6,354.4 L526.6,356.2 L532.0,355.7 L537.4,359.8 L541.0,368.7 L546.3,358.8 L553.5,358.4 L558.5,340.7 L562.7,327.1 L566.1,325.4 L575.4,319.5 L584.8,316.1 L587.3,317.0 L591.6,320.7 L598.4,319.5 L602.6,320.4 L606.8,326.3 L614.5,326.8 L622.1,327.1 L624.7,344.1 L630.6,355.1 L634.8,349.2 L646.7,340.4 L649.3,340.7 L652.6,335.6 L661.1,333.1 L665.4,339.0 L670.5,345.8 L674.7,352.6 L679.8,349.2 L686.6,361.4 L690.8,345.0 L695.9,339.9 L702.7,353.4 L706.1,347.5 L714.6,305.3 L720.7,225.0 L724.8,239.0 L727.5,261.4 L731.1,255.7 L733.5,257.3 L736.2,262.8 L740.7,258.9 L743.9,258.1 L747.9,250.9 L752.7,251.7 L756.7,248.2 L762.3,250.9 L767.9,249.8 L771.1,253.3 L774.3,262.9 L779.8,262.1 L783.0,266.9 L786.2,282.1 L793.4,283.7 L799.0,288.5 L804.6,279.7 L809.4,278.9 L814.2,274.1 L817.4,278.1 L823.0,260.5 L827.7,266.1 L830.9,270.1 L835.7,270.1 L840.5,266.9 L843.7,269.3 L848.5,282.9 L851.9,288.2 L856.3,293.1 L859.5,292.0 L865.0,281.7 L871.5,270.8 L876.9,267.0 L880.2,265.9 L884.5,262.1 L888.9,255.1 L894.3,264.9 L901.3,275.7 L904.6,271.4 L908.4,273.5 L912.2,271.9 L917.1,267.0 L920.3,260.5 L923.1,261.1 L925.8,265.9 L925.8,166.4 L6.5,166.4 Z" fill="url(#gg)" clip-path="url(#above)"/>
<path d="M6.5,165.0 L10.0,164.5 L15.0,163.0 L20.0,161.2 L26.0,159.0 L32.0,156.8 L37.3,153.7 L43.3,153.1 L46.9,150.1 L52.4,152.2 L55.4,148.9 L59.0,138.0 L65.1,131.9 L68.1,116.8 L71.1,117.4 L75.4,113.8 L77.8,114.0 L83.2,118.6 L89.9,99.9 L94.1,101.4 L99.0,104.7 L102.6,108.9 L107.4,112.0 L110.4,116.2 L114.7,127.1 L118.3,134.3 L121.3,147.0 L124.4,150.1 L130.4,166.0 L136.0,168.2 L140.5,169.2 L145.0,171.2 L148.0,172.7 L152.5,169.2 L157.0,171.2 L160.0,174.2 L165.2,184.6 L168.2,184.6 L171.2,180.1 L174.9,177.2 L177.9,172.7 L180.9,166.0 L186.1,159.2 L189.1,159.2 L192.1,151.0 L195.9,160.0 L198.1,160.7 L203.4,157.0 L204.9,155.4 L207.8,148.3 L211.6,152.5 L218.3,149.2 L221.3,149.5 L225.8,152.2 L230.3,158.4 L236.3,157.0 L240.0,162.2 L245.3,163.0 L249.8,164.7 L254.3,163.7 L258.0,158.4 L261.0,163.7 L264.0,157.0 L270.7,166.0 L273.7,176.4 L276.7,183.9 L280.8,187.0 L285.5,199.4 L290.1,195.6 L295.6,191.7 L298.7,194.8 L301.0,202.5 L306.4,207.2 L309.5,213.4 L313.4,223.5 L316.5,220.4 L325.8,179.6 L329.7,184.7 L332.0,185.5 L339.0,210.3 L342.0,209.5 L347.5,191.7 L351.4,184.3 L354.5,185.5 L357.6,185.5 L363.0,219.6 L367.6,225.8 L375.4,229.7 L378.5,229.7 L384.7,231.2 L390.9,236.6 L397.8,249.0 L401.7,243.6 L406.4,242.1 L411.8,243.6 L419.3,249.3 L422.8,263.3 L426.3,260.5 L435.6,263.3 L440.2,266.7 L447.2,276.0 L456.5,283.0 L465.8,282.3 L470.5,291.2 L476.3,301.6 L477.6,345.0 L479.0,367.0 L481.7,380.4 L484.4,385.5 L488.0,377.0 L490.7,374.6 L493.8,378.6 L500.5,378.2 L504.1,375.9 L509.5,365.6 L514.0,373.2 L517.2,371.9 L521.6,354.4 L526.6,356.2 L532.0,355.7 L537.4,359.8 L541.0,368.7 L546.3,358.8 L553.5,358.4 L558.5,340.7 L562.7,327.1 L566.1,325.4 L575.4,319.5 L584.8,316.1 L587.3,317.0 L591.6,320.7 L598.4,319.5 L602.6,320.4 L606.8,326.3 L614.5,326.8 L622.1,327.1 L624.7,344.1 L630.6,355.1 L634.8,349.2 L646.7,340.4 L649.3,340.7 L652.6,335.6 L661.1,333.1 L665.4,339.0 L670.5,345.8 L674.7,352.6 L679.8,349.2 L686.6,361.4 L690.8,345.0 L695.9,339.9 L702.7,353.4 L706.1,347.5 L714.6,305.3 L720.7,225.0 L724.8,239.0 L727.5,261.4 L731.1,255.7 L733.5,257.3 L736.2,262.8 L740.7,258.9 L743.9,258.1 L747.9,250.9 L752.7,251.7 L756.7,248.2 L762.3,250.9 L767.9,249.8 L771.1,253.3 L774.3,262.9 L779.8,262.1 L783.0,266.9 L786.2,282.1 L793.4,283.7 L799.0,288.5 L804.6,279.7 L809.4,278.9 L814.2,274.1 L817.4,278.1 L823.0,260.5 L827.7,266.1 L830.9,270.1 L835.7,270.1 L840.5,266.9 L843.7,269.3 L848.5,282.9 L851.9,288.2 L856.3,293.1 L859.5,292.0 L865.0,281.7 L871.5,270.8 L876.9,267.0 L880.2,265.9 L884.5,262.1 L888.9,255.1 L894.3,264.9 L901.3,275.7 L904.6,271.4 L908.4,273.5 L912.2,271.9 L917.1,267.0 L920.3,260.5 L923.1,261.1 L925.8,265.9 L925.8,166.4 L6.5,166.4 Z" fill="url(#rg)" clip-path="url(#below)"/>
<line x1="6" y1="166.5" x2="926" y2="166.5" stroke="#c8cad2" stroke-width="1" stroke-dasharray="1 4"/>
<path d="M6.5,165.0 L10.0,164.5 L15.0,163.0 L20.0,161.2 L26.0,159.0 L32.0,156.8 L37.3,153.7 L43.3,153.1 L46.9,150.1 L52.4,152.2 L55.4,148.9 L59.0,138.0 L65.1,131.9 L68.1,116.8 L71.1,117.4 L75.4,113.8 L77.8,114.0 L83.2,118.6 L89.9,99.9 L94.1,101.4 L99.0,104.7 L102.6,108.9 L107.4,112.0 L110.4,116.2 L114.7,127.1 L118.3,134.3 L121.3,147.0 L124.4,150.1 L130.4,166.0 L136.0,168.2 L140.5,169.2 L145.0,171.2 L148.0,172.7 L152.5,169.2 L157.0,171.2 L160.0,174.2 L165.2,184.6 L168.2,184.6 L171.2,180.1 L174.9,177.2 L177.9,172.7 L180.9,166.0 L186.1,159.2 L189.1,159.2 L192.1,151.0 L195.9,160.0 L198.1,160.7 L203.4,157.0 L204.9,155.4 L207.8,148.3 L211.6,152.5 L218.3,149.2 L221.3,149.5 L225.8,152.2 L230.3,158.4 L236.3,157.0 L240.0,162.2 L245.3,163.0 L249.8,164.7 L254.3,163.7 L258.0,158.4 L261.0,163.7 L264.0,157.0 L270.7,166.0 L273.7,176.4 L276.7,183.9 L280.8,187.0 L285.5,199.4 L290.1,195.6 L295.6,191.7 L298.7,194.8 L301.0,202.5 L306.4,207.2 L309.5,213.4 L313.4,223.5 L316.5,220.4 L325.8,179.6 L329.7,184.7 L332.0,185.5 L339.0,210.3 L342.0,209.5 L347.5,191.7 L351.4,184.3 L354.5,185.5 L357.6,185.5 L363.0,219.6 L367.6,225.8 L375.4,229.7 L378.5,229.7 L384.7,231.2 L390.9,236.6 L397.8,249.0 L401.7,243.6 L406.4,242.1 L411.8,243.6 L419.3,249.3 L422.8,263.3 L426.3,260.5 L435.6,263.3 L440.2,266.7 L447.2,276.0 L456.5,283.0 L465.8,282.3 L470.5,291.2 L476.3,301.6 L477.6,345.0 L479.0,367.0 L481.7,380.4 L484.4,385.5 L488.0,377.0 L490.7,374.6 L493.8,378.6 L500.5,378.2 L504.1,375.9 L509.5,365.6 L514.0,373.2 L517.2,371.9 L521.6,354.4 L526.6,356.2 L532.0,355.7 L537.4,359.8 L541.0,368.7 L546.3,358.8 L553.5,358.4 L558.5,340.7 L562.7,327.1 L566.1,325.4 L575.4,319.5 L584.8,316.1 L587.3,317.0 L591.6,320.7 L598.4,319.5 L602.6,320.4 L606.8,326.3 L614.5,326.8 L622.1,327.1 L624.7,344.1 L630.6,355.1 L634.8,349.2 L646.7,340.4 L649.3,340.7 L652.6,335.6 L661.1,333.1 L665.4,339.0 L670.5,345.8 L674.7,352.6 L679.8,349.2 L686.6,361.4 L690.8,345.0 L695.9,339.9 L702.7,353.4 L706.1,347.5 L714.6,305.3 L720.7,225.0 L724.8,239.0 L727.5,261.4 L731.1,255.7 L733.5,257.3 L736.2,262.8 L740.7,258.9 L743.9,258.1 L747.9,250.9 L752.7,251.7 L756.7,248.2 L762.3,250.9 L767.9,249.8 L771.1,253.3 L774.3,262.9 L779.8,262.1 L783.0,266.9 L786.2,282.1 L793.4,283.7 L799.0,288.5 L804.6,279.7 L809.4,278.9 L814.2,274.1 L817.4,278.1 L823.0,260.5 L827.7,266.1 L830.9,270.1 L835.7,270.1 L840.5,266.9 L843.7,269.3 L848.5,282.9 L851.9,288.2 L856.3,293.1 L859.5,292.0 L865.0,281.7 L871.5,270.8 L876.9,267.0 L880.2,265.9 L884.5,262.1 L888.9,255.1 L894.3,264.9 L901.3,275.7 L904.6,271.4 L908.4,273.5 L912.2,271.9 L917.1,267.0 L920.3,260.5 L923.1,261.1 L925.8,265.9" fill="none" stroke="#2acb8a" stroke-width="2.6" stroke-linejoin="round" stroke-linecap="round" clip-path="url(#above)"/>
<path d="M6.5,165.0 L10.0,164.5 L15.0,163.0 L20.0,161.2 L26.0,159.0 L32.0,156.8 L37.3,153.7 L43.3,153.1 L46.9,150.1 L52.4,152.2 L55.4,148.9 L59.0,138.0 L65.1,131.9 L68.1,116.8 L71.1,117.4 L75.4,113.8 L77.8,114.0 L83.2,118.6 L89.9,99.9 L94.1,101.4 L99.0,104.7 L102.6,108.9 L107.4,112.0 L110.4,116.2 L114.7,127.1 L118.3,134.3 L121.3,147.0 L124.4,150.1 L130.4,166.0 L136.0,168.2 L140.5,169.2 L145.0,171.2 L148.0,172.7 L152.5,169.2 L157.0,171.2 L160.0,174.2 L165.2,184.6 L168.2,184.6 L171.2,180.1 L174.9,177.2 L177.9,172.7 L180.9,166.0 L186.1,159.2 L189.1,159.2 L192.1,151.0 L195.9,160.0 L198.1,160.7 L203.4,157.0 L204.9,155.4 L207.8,148.3 L211.6,152.5 L218.3,149.2 L221.3,149.5 L225.8,152.2 L230.3,158.4 L236.3,157.0 L240.0,162.2 L245.3,163.0 L249.8,164.7 L254.3,163.7 L258.0,158.4 L261.0,163.7 L264.0,157.0 L270.7,166.0 L273.7,176.4 L276.7,183.9 L280.8,187.0 L285.5,199.4 L290.1,195.6 L295.6,191.7 L298.7,194.8 L301.0,202.5 L306.4,207.2 L309.5,213.4 L313.4,223.5 L316.5,220.4 L325.8,179.6 L329.7,184.7 L332.0,185.5 L339.0,210.3 L342.0,209.5 L347.5,191.7 L351.4,184.3 L354.5,185.5 L357.6,185.5 L363.0,219.6 L367.6,225.8 L375.4,229.7 L378.5,229.7 L384.7,231.2 L390.9,236.6 L397.8,249.0 L401.7,243.6 L406.4,242.1 L411.8,243.6 L419.3,249.3 L422.8,263.3 L426.3,260.5 L435.6,263.3 L440.2,266.7 L447.2,276.0 L456.5,283.0 L465.8,282.3 L470.5,291.2 L476.3,301.6 L477.6,345.0 L479.0,367.0 L481.7,380.4 L484.4,385.5 L488.0,377.0 L490.7,374.6 L493.8,378.6 L500.5,378.2 L504.1,375.9 L509.5,365.6 L514.0,373.2 L517.2,371.9 L521.6,354.4 L526.6,356.2 L532.0,355.7 L537.4,359.8 L541.0,368.7 L546.3,358.8 L553.5,358.4 L558.5,340.7 L562.7,327.1 L566.1,325.4 L575.4,319.5 L584.8,316.1 L587.3,317.0 L591.6,320.7 L598.4,319.5 L602.6,320.4 L606.8,326.3 L614.5,326.8 L622.1,327.1 L624.7,344.1 L630.6,355.1 L634.8,349.2 L646.7,340.4 L649.3,340.7 L652.6,335.6 L661.1,333.1 L665.4,339.0 L670.5,345.8 L674.7,352.6 L679.8,349.2 L686.6,361.4 L690.8,345.0 L695.9,339.9 L702.7,353.4 L706.1,347.5 L714.6,305.3 L720.7,225.0 L724.8,239.0 L727.5,261.4 L731.1,255.7 L733.5,257.3 L736.2,262.8 L740.7,258.9 L743.9,258.1 L747.9,250.9 L752.7,251.7 L756.7,248.2 L762.3,250.9 L767.9,249.8 L771.1,253.3 L774.3,262.9 L779.8,262.1 L783.0,266.9 L786.2,282.1 L793.4,283.7 L799.0,288.5 L804.6,279.7 L809.4,278.9 L814.2,274.1 L817.4,278.1 L823.0,260.5 L827.7,266.1 L830.9,270.1 L835.7,270.1 L840.5,266.9 L843.7,269.3 L848.5,282.9 L851.9,288.2 L856.3,293.1 L859.5,292.0 L865.0,281.7 L871.5,270.8 L876.9,267.0 L880.2,265.9 L884.5,262.1 L888.9,255.1 L894.3,264.9 L901.3,275.7 L904.6,271.4 L908.4,273.5 L912.2,271.9 L917.1,267.0 L920.3,260.5 L923.1,261.1 L925.8,265.9" fill="none" stroke="#ea4651" stroke-width="2.6" stroke-linejoin="round" stroke-linecap="round" clip-path="url(#below)"/>

<!-- base label -->
<rect x="8" y="154" width="61" height="28" rx="6" fill="#222434" fill-opacity="0.9"/>
<text x="13.4" y="173" font-family="'Liberation Sans', sans-serif" font-size="14.3" fill="#b3b6c1" stroke="#b3b6c1" stroke-width="0.45" textLength="50.3" lengthAdjust="spacingAndGlyphs">0.07121</text>

<!-- axis labels -->
<g font-family="'Liberation Sans', sans-serif" font-size="15" fill="#a2a9bd" stroke="#a2a9bd" stroke-width="0.3"><text x="933.5" y="135.6">0.0715</text><text x="933.5" y="195.6">0.0710</text><text x="933.5" y="256.3">0.0705</text><text x="933.5" y="316.7">0.0700</text><text x="933.5" y="377.5">0.0695</text><text x="933.5" y="438.1">0.0690</text></g>
<rect x="926" y="251" width="62.5" height="30.5" rx="3" fill="#ea3943"/>
<text x="933.3" y="272" font-family="'Liberation Sans', sans-serif" font-size="15" font-weight="bold" fill="#ffffff">0.0703</text>
<text x="941" y="496.5" font-family="'Liberation Sans', sans-serif" font-size="14.5" font-weight="bold" fill="#a1a7bb">USD</text>

<!-- watermark -->
<g fill="none" stroke="#d9dce5" stroke-width="2.5" stroke-linecap="round" stroke-linejoin="round" opacity="0.92">
<path d="M757.2,446.4 A13.6,13.6 0 1 1 760.6,438.5"/>
<path d="M737.5,443 L744.8,431.8 Q746,430.5 746.8,432.5 L748.5,440.5 Q749.3,442 750.2,440.5 L753.8,432.8 Q754.8,431.5 755.5,433.5 L756.8,439.5 Q757.8,441.5 760.6,438.5"/>
</g>
<text x="771" y="444.3" font-family="'Liberation Sans', sans-serif" font-size="18.5" fill="#d9dce5" stroke="#d9dce5" stroke-width="0.7" opacity="0.92" textLength="135.5" lengthAdjust="spacingAndGlyphs">CoinMarketCap</text>

<!-- x labels -->
<g font-family="'Liberation Sans', sans-serif" font-size="14.2" fill="#a6abbd" stroke="#a6abbd" stroke-width="0.3"><text x="9.0" y="522" textLength="51.7" lengthAdjust="spacing">12:00 ...</text><text x="91.3" y="522" textLength="54.1" lengthAdjust="spacing">3:00 PM</text><text x="202.8" y="522" textLength="54.9" lengthAdjust="spacing">6:00 PM</text><text x="314.4" y="522" textLength="55.3" lengthAdjust="spacing">9:00 PM</text><text x="432.4" y="522" textLength="44.1" lengthAdjust="spacing">31 Mar</text><text x="538.2" y="522" textLength="55.5" lengthAdjust="spacing">3:00 AM</text><text x="649.9" y="522" textLength="55.4" lengthAdjust="spacing">6:00 AM</text><text x="762.1" y="522" textLength="55.8" lengthAdjust="spacing">9:00 AM</text><text x="873.0" y="522" textLength="59.3" lengthAdjust="spacing">12:00 PM</text></g>

<!-- analyze -->
<path d="M867,532.5 L872,527.3 L877,532.5 Z" fill="#3861fb"/>
<rect x="819" y="532" width="107" height="30" rx="15" fill="#3861fb"/>
<g fill="none" stroke="#ffffff" stroke-width="1.5" stroke-linecap="round" stroke-linejoin="round">
<path d="M843.1,547.8 A7.1,7.1 0 1 0 829.2,549 L828.7,554.3 L833.5,553.7 A7.1,7.1 0 0 0 841,551.8"/>
<path d="M831.8,548.4 L834.5,544.4 L836.4,548.2 L838.9,544.4 L840.8,548.3 Q842,549.2 843.1,547.8" stroke-width="1.7"/>
</g>
<text x="848" y="551.8" font-family="'Liberation Sans', sans-serif" font-size="14" font-weight="bold" fill="#ffffff">Analyze</text>
<path d="M906.8,543.5 L911.5,547.7 L906.8,551.9" fill="none" stroke="#ffffff" stroke-width="1.5" stroke-linecap="round" stroke-linejoin="round"/>

<!-- timeline -->
<line x1="6" y1="565.5" x2="925.5" y2="565.5" stroke="#222633"/>
<g stroke="#222633"><line x1="11.5" y1="565" x2="11.5" y2="615"/><line x1="138.5" y1="565" x2="138.5" y2="615"/><line x1="265.5" y1="565" x2="265.5" y2="615"/><line x1="390.5" y1="565" x2="390.5" y2="615"/><line x1="516.5" y1="565" x2="516.5" y2="615"/><line x1="641.5" y1="565" x2="641.5" y2="615"/><line x1="768.5" y1="565" x2="768.5" y2="615"/><line x1="894.5" y1="565" x2="894.5" y2="615"/><line x1="925.5" y1="565" x2="925.5" y2="615"/></g>
<path d="M6.2,614.4 L7.8,613.4 L10.4,614.4 L35.0,614.6 L37.6,612.1 L39.6,611.8 L44.1,613.4 L47.4,610.5 L49.9,610.5 L58.4,611.4 L75.2,612.1 L77.8,609.7 L80.4,612.1 L90.8,613.1 L110.3,613.6 L130.0,614.0 L140.4,613.6 L152.1,612.1 L161.1,613.1 L163.7,614.4 L167.6,613.4 L184.5,612.1 L192.3,610.1 L202.7,608.2 L210.4,606.6 L220.8,606.3 L225.4,607.1 L228.6,606.2 L236.4,607.1 L240.3,610.1 L246.8,611.4 L260.0,612.3 L267.8,611.4 L276.9,612.3 L279.5,610.8 L284.0,606.9 L287.2,606.9 L291.1,603.4 L294.4,603.6 L298.3,604.0 L300.9,602.1 L302.8,605.6 L308.0,604.9 L313.2,608.4 L317.1,608.4 L324.9,610.1 L336.5,609.2 L348.2,606.9 L353.4,604.9 L359.2,606.9 L362.5,605.3 L368.1,604.5 L370.4,600.5 L374.0,595.1 L376.2,585.7 L378.5,570.4 L380.3,573.5 L383.0,583.9 L385.7,585.5 L387.9,582.3 L392.0,587.0 L397.3,591.5 L400.5,593.6 L402.7,592.9 L404.5,587.3 L406.3,589.7 L409.0,593.6 L411.7,591.5 L415.3,593.9 L419.8,589.7 L422.5,589.4 L426.1,592.1 L430.6,593.6 L434.2,601.8 L436.0,605.4 L438.7,604.5 L441.4,606.3 L445.0,605.9 L448.1,609.5 L457.8,609.2 L461.7,607.9 L468.2,606.9 L478.5,609.7 L488.9,609.5 L497.4,609.5 L503.2,612.3 L514.9,612.3 L525.2,610.5 L536.9,610.8 L540.8,612.1 L556.4,611.4 L562.9,612.3 L580.0,612.7 L618.9,612.7 L625.4,610.5 L635.8,609.7 L642.3,609.5 L652.7,611.0 L661.7,610.1 L665.6,606.6 L669.5,607.5 L673.4,606.6 L678.6,607.5 L681.2,608.4 L692.9,608.6 L699.4,610.1 L710.0,610.6 L734.6,610.8 L747.6,611.4 L754.1,605.8 L756.7,605.6 L760.6,604.3 L765.8,606.6 L772.3,607.9 L777.5,607.9 L782.7,610.5 L793.0,611.4 L799.5,609.5 L806.0,611.0 L816.4,609.7 L832.0,611.0 L837.7,608.6 L843.2,607.3 L848.7,607.0 L850.3,604.8 L852.0,597.6 L854.2,599.8 L858.5,602.0 L861.8,605.3 L864.6,603.7 L868.4,607.0 L873.9,608.1 L880.5,610.0 L889.3,610.8 L899.2,610.0 L906.8,611.9 L925.5,611.3 L925.5,615.5 L6.2,615.5 Z" fill="#202542"/>
<path d="M6.2,614.4 L7.8,613.4 L10.4,614.4 L35.0,614.6 L37.6,612.1 L39.6,611.8 L44.1,613.4 L47.4,610.5 L49.9,610.5 L58.4,611.4 L75.2,612.1 L77.8,609.7 L80.4,612.1 L90.8,613.1 L110.3,613.6 L130.0,614.0 L140.4,613.6 L152.1,612.1 L161.1,613.1 L163.7,614.4 L167.6,613.4 L184.5,612.1 L192.3,610.1 L202.7,608.2 L210.4,606.6 L220.8,606.3 L225.4,607.1 L228.6,606.2 L236.4,607.1 L240.3,610.1 L246.8,611.4 L260.0,612.3 L267.8,611.4 L276.9,612.3 L279.5,610.8 L284.0,606.9 L287.2,606.9 L291.1,603.4 L294.4,603.6 L298.3,604.0 L300.9,602.1 L302.8,605.6 L308.0,604.9 L313.2,608.4 L317.1,608.4 L324.9,610.1 L336.5,609.2 L348.2,606.9 L353.4,604.9 L359.2,606.9 L362.5,605.3 L368.1,604.5 L370.4,600.5 L374.0,595.1 L376.2,585.7 L378.5,570.4 L380.3,573.5 L383.0,583.9 L385.7,585.5 L387.9,582.3 L392.0,587.0 L397.3,591.5 L400.5,593.6 L402.7,592.9 L404.5,587.3 L406.3,589.7 L409.0,593.6 L411.7,591.5 L415.3,593.9 L419.8,589.7 L422.5,589.4 L426.1,592.1 L430.6,593.6 L434.2,601.8 L436.0,605.4 L438.7,604.5 L441.4,606.3 L445.0,605.9 L448.1,609.5 L457.8,609.2 L461.7,607.9 L468.2,606.9 L478.5,609.7 L488.9,609.5 L497.4,609.5 L503.2,612.3 L514.9,612.3 L525.2,610.5 L536.9,610.8 L540.8,612.1 L556.4,611.4 L562.9,612.3 L580.0,612.7 L618.9,612.7 L625.4,610.5 L635.8,609.7 L642.3,609.5 L652.7,611.0 L661.7,610.1 L665.6,606.6 L669.5,607.5 L673.4,606.6 L678.6,607.5 L681.2,608.4 L692.9,608.6 L699.4,610.1 L710.0,610.6 L734.6,610.8 L747.6,611.4 L754.1,605.8 L756.7,605.6 L760.6,604.3 L765.8,606.6 L772.3,607.9 L777.5,607.9 L782.7,610.5 L793.0,611.4 L799.5,609.5 L806.0,611.0 L816.4,609.7 L832.0,611.0 L837.7,608.6 L843.2,607.3 L848.7,607.0 L850.3,604.8 L852.0,597.6 L854.2,599.8 L858.5,602.0 L861.8,605.3 L864.6,603.7 L868.4,607.0 L873.9,608.1 L880.5,610.0 L889.3,610.8 L899.2,610.0 L906.8,611.9 L925.5,611.3" fill="none" stroke="#4b6fe4" stroke-width="1.5" stroke-linejoin="round" stroke-linecap="round"/>
<g font-family="'Liberation Sans', sans-serif" font-size="14.5" fill="#a6abbd" stroke="#a6abbd" stroke-width="0.3"><text x="6.2" y="635">2019</text><text x="121.5" y="635">2020</text><text x="248.2" y="635">2021</text><text x="374.0" y="635">2022</text><text x="499.9" y="635">2023</text><text x="625.9" y="635">2024</text><text x="752.2" y="635">2025</text><text x="878.0" y="635">2026</text></g>
<rect x="915" y="577" width="19.5" height="25.5" rx="9.75" fill="#1c1f2c"/>
<path d="M922.9,585 V594 M926.7,585 V594" stroke="#b3b6c0" stroke-width="1.35"/>
</svg>
</body></html>
